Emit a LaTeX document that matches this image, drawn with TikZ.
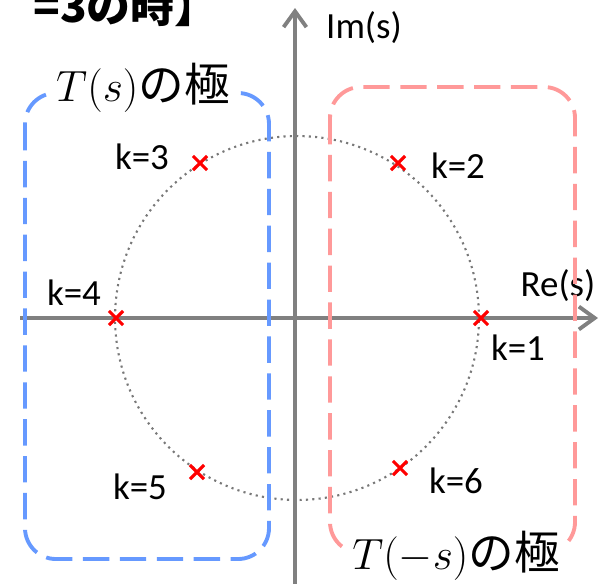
\documentclass[tikz,border=0pt]{standalone}
\usepackage{fontspec}
\setmainfont{Carlito}
\newfontfamily\jp{Noto Sans CJK JP}
\usepackage{xcolor}
\usepackage{tikz}
\usetikzlibrary{arrows.meta,positioning,shapes.misc}
\definecolor{axisgray}{RGB}{128,128,128}
\definecolor{dotgray}{RGB}{120,120,120}
\definecolor{poleblue}{RGB}{102,153,255}
\definecolor{polepink}{RGB}{255,153,153}
\definecolor{polered}{RGB}{255,0,0}

\begin{document}
\begin{tikzpicture}[x=0.02cm,y=-0.02cm,
  axis/.style={line width=2.2pt,axisgray,-{Straight Barb[length=9pt,width=13pt,line width=2.2pt]}},
  region/.style={line width=2.2pt,rounded corners=0.62cm,dash pattern=on 15pt off 6pt},
  pole/.style={cross out,draw=polered,line width=1.8pt,inner sep=0pt,minimum size=0.22cm},
  klabel/.style={font=\fontsize{21}{24}\selectfont,inner sep=1pt},
  reglabel/.style={font=\fontsize{26}{29}\selectfont,fill=white,inner sep=2pt}]
\useasboundingbox (0,0) rectangle (614,583);
% title (cut off at the page edge)
\node[anchor=base east,font=\jp\bfseries\fontsize{25}{28}\selectfont,inner sep=0pt] (title) at (219,22) {=3の時】};
% unit circle of poles
\draw[dotgray,line width=1.2pt,dash pattern=on 1.2pt off 2.4pt] (297,318) circle[radius=3.64cm];
% axes
\coordinate (reL) at (20,318);
\coordinate (reR) at (598,318);
\coordinate (imB) at (295,590);
\coordinate (imT) at (295,8);
\draw[axis] (reL) -- (reR);
\draw[axis] (imB) -- (imT);
\node[klabel] (relabel) at (558,286) {Re(s)};
\node[klabel] (imlabel) at (364,28) {Im(s)};
% pole regions
\draw[region,poleblue] (25,93) rectangle (269,559);
\draw[region,polepink] (330,87) rectangle (575,553);
\node[reglabel] (stable) at (143,88) {$T(s)${\jp の極}};
\node[reglabel] (unstable) at (456,556) {$T(-s)${\jp の極}};
% poles
\node[pole] (p1) at (481,318) {};
\node[pole] (p2) at (398,163) {};
\node[pole] (p3) at (200,163) {};
\node[pole] (p4) at (116,318) {};
\node[pole] (p5) at (197,472) {};
\node[pole] (p6) at (400,468) {};
\node[klabel] (k1) at (518,348) {k=1};
\node[klabel] (k2) at (458,166) {k=2};
\node[klabel] (k3) at (142,157) {k=3};
\node[klabel] (k4) at (74,293) {k=4};
\node[klabel] (k5) at (140,487) {k=5};
\node[klabel] (k6) at (456,481) {k=6};
\end{tikzpicture}
\end{document}
